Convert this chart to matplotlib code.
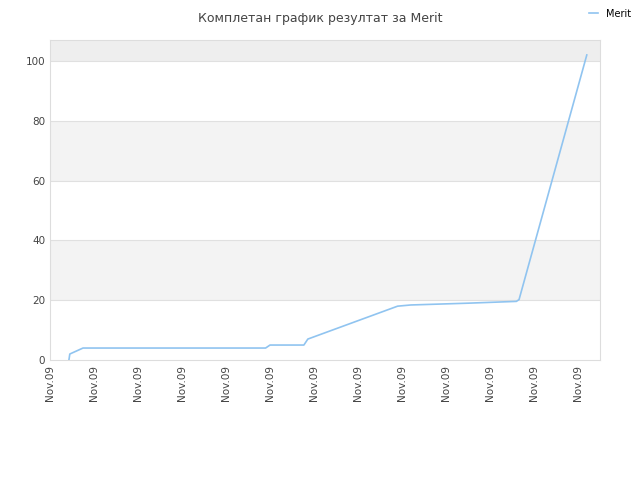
import matplotlib
matplotlib.use("Agg")
import matplotlib.pyplot as plt

x = [0.43, 0.45, 0.75, 4.9, 5.0, 5.77, 5.86, 7.9, 8.2, 9.5, 10.6, 10.66, 12.2]
y = [0, 2, 4, 4, 5, 5, 7, 18, 18.4, 19, 19.6, 20.2, 102]
tick_labels = ["Nov.09"] * 13

fig = plt.figure(figsize=(6.4, 4.8), dpi=100)
ax = fig.add_axes([50/640, 120/480, 550/640, 320/480])
ax.set_xlim(0, 12.5)
ax.set_ylim(0, 107)
for lo, hi, c in [(20, 40, "#f3f3f3"), (60, 80, "#f3f3f3"), (100, 107, "#eeeeee")]:
    ax.axhspan(lo, hi, color=c, zorder=0, lw=0)
for v in [20, 40, 60, 80, 100]:
    ax.axhline(v, color="#e0e0e0", lw=0.8, zorder=1)
ax.plot(x, y, color="#90c4f0", lw=1.2, label="Merit", zorder=3)
ax.set_yticks([0, 20, 40, 60, 80, 100])
ax.set_xticks(range(13))
ax.set_xticklabels(tick_labels, rotation=90, fontsize=7.5, color="#444444")
ax.tick_params(axis="y", labelsize=7.5, colors="#444444", length=0)
ax.tick_params(axis="x", length=0)
for s in ax.spines.values():
    s.set_color("#dddddd")
fig.text(0.5, 0.975, "Комплетан график резултат за Merit", ha="center", va="top", fontsize=9, color="#444444")
fig.legend(loc="upper right", bbox_to_anchor=(1.0, 1.0), frameon=False, fontsize=7, handlelength=1)
fig.savefig("out.png")
